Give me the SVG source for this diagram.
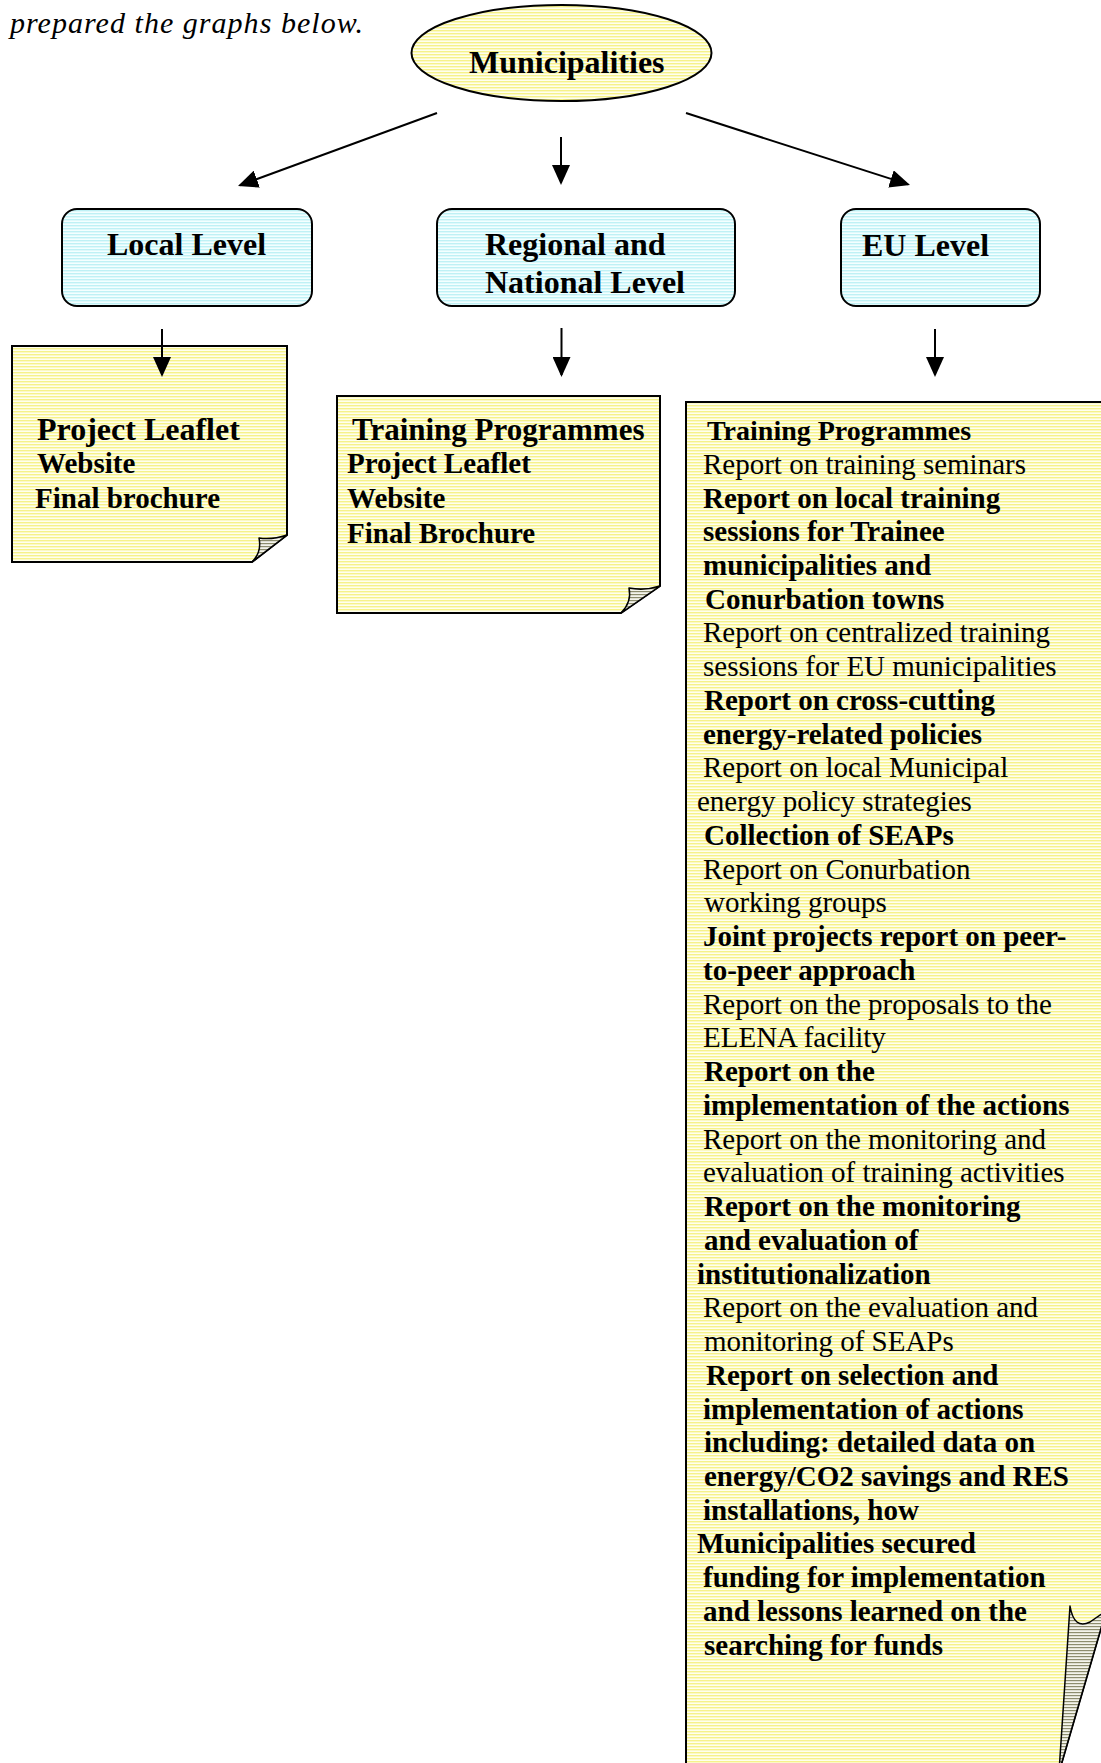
<svg xmlns="http://www.w3.org/2000/svg" width="1101" height="1763" viewBox="0 0 1101 1763">
<defs>
<pattern id="yl" width="8" height="3" patternUnits="userSpaceOnUse"><rect width="8" height="3" fill="#FFFFEE"/><rect width="8" height="1.4" fill="#F6F28A"/></pattern>
<pattern id="cy" width="8" height="3" patternUnits="userSpaceOnUse"><rect width="8" height="3" fill="#F3FFFF"/><rect width="8" height="1.4" fill="#BFF1F5"/></pattern>
<pattern id="hz" width="8" height="3" patternUnits="userSpaceOnUse"><rect width="8" height="3" fill="#F4F4EC"/><rect width="8" height="1.2" fill="#8E8E6E"/></pattern>
<marker id="ah" markerUnits="userSpaceOnUse" markerWidth="20" markerHeight="18" viewBox="0 0 20 18" refX="18" refY="9" orient="auto"><path d="M0,0 L20,9 L0,18 Z" fill="#000"/></marker>
</defs>
<style>
.b{font-family:"Liberation Serif","Times New Roman",serif;font-weight:bold;fill:#000}
.r{font-family:"Liberation Serif","Times New Roman",serif;font-weight:normal;fill:#000}
.h{font-size:32px}
.m{font-size:29px}
.box{fill:url(#cy);stroke:#000;stroke-width:2}
.note{fill:url(#yl);stroke:#000;stroke-width:2}
.fold{fill:url(#hz);stroke:#000;stroke-width:1.5;stroke-linejoin:round}
.c{stroke:#000;stroke-width:2;fill:none;marker-end:url(#ah)}
</style>
<rect width="1101" height="1763" fill="#fff"/>
<text x="10" y="33" font-family="Liberation Serif, Times New Roman, serif" font-style="italic" font-size="30" textLength="353" lengthAdjust="spacing">prepared the graphs below.</text>

<g id="municipalities">
<ellipse cx="561.5" cy="53" rx="150" ry="48" fill="url(#yl)" stroke="#000" stroke-width="2"/>
<text class="b h" x="469" y="73">Municipalities</text>
</g>

<g id="local-level">
<rect class="box" x="62" y="209" width="250" height="97" rx="15"/>
<text class="b h" x="107" y="255">Local Level</text>
</g>

<g id="regional-level">
<rect class="box" x="437" y="209" width="298" height="97" rx="15"/>
<text class="b h" x="485" y="255">Regional and</text>
<text class="b h" x="485" y="293">National Level</text>
</g>

<g id="eu-level">
<rect class="box" x="841" y="209" width="199" height="97" rx="15"/>
<text class="b h" x="862" y="256">EU Level</text>
</g>

<g id="local-note">
<path class="note" d="M12,346 H287 V535 L252,562 H12 Z"/>
<path class="fold" d="M259,538 Q262,552 252,562 L287,535 Q272,540 259,538 Z"/>
<text class="b h" x="37" y="440">Project Leaflet</text>
<text class="b m" x="37" y="473">Website</text>
<text class="b m" x="35" y="508">Final brochure</text>
</g>

<g id="regional-note">
<path class="note" d="M337,396 H660 V586 L621,613 H337 Z"/>
<path class="fold" d="M629,588 Q632,602 621,613 L660,586 Q645,591 629,588 Z"/>
<text class="b" font-size="31" x="352" y="440">Training Programmes</text>
<text class="b m" x="347" y="473">Project Leaflet</text>
<text class="b m" x="347" y="508">Website</text>
<text class="b m" x="347" y="543">Final Brochure</text>
</g>

<g id="eu-note">
<path class="note" d="M686,402 H1106 V1611 L1059,1772 H686 Z"/>
<path class="fold" d="M1070,1606 Q1074,1630 1090,1622 L1106,1611 L1059,1772 Z"/>
<text class="b" font-size="28" x="707" y="440">Training Programmes</text>
<text class="r m" x="703" y="473.7">Report on training seminars</text>
<text class="b m" x="703" y="507.5">Report on local training</text>
<text class="b m" x="703" y="541.2">sessions for Trainee</text>
<text class="b m" x="703" y="575">municipalities and</text>
<text class="b m" x="705" y="608.7">Conurbation towns</text>
<text class="r m" x="703" y="642.4">Report on centralized training</text>
<text class="r m" x="703" y="676.2">sessions for EU municipalities</text>
<text class="b m" x="704" y="709.9">Report on cross-cutting</text>
<text class="b m" x="703" y="743.7">energy-related policies</text>
<text class="r m" x="703" y="777.4">Report on local Municipal</text>
<text class="r m" x="697" y="811.1">energy policy strategies</text>
<text class="b m" x="704" y="844.9">Collection of SEAPs</text>
<text class="r m" x="703" y="878.6">Report on Conurbation</text>
<text class="r m" x="704" y="912.4">working groups</text>
<text class="b m" x="703" y="946.1">Joint projects report on peer-</text>
<text class="b m" x="703" y="979.8">to-peer approach</text>
<text class="r m" x="703" y="1013.6">Report on the proposals to the</text>
<text class="r m" x="703" y="1047.3">ELENA facility</text>
<text class="b m" x="704" y="1081.1">Report on the</text>
<text class="b m" x="703" y="1114.8">implementation of the actions</text>
<text class="r m" x="703" y="1148.5">Report on the monitoring and</text>
<text class="r m" x="703" y="1182.3">evaluation of training activities</text>
<text class="b m" x="704" y="1216">Report on the monitoring</text>
<text class="b m" x="704" y="1249.8">and evaluation of</text>
<text class="b m" x="697" y="1283.5">institutionalization</text>
<text class="r m" x="703" y="1317.2">Report on the evaluation and</text>
<text class="r m" x="704" y="1351">monitoring of SEAPs</text>
<text class="b m" x="706" y="1384.7">Report on selection and</text>
<text class="b m" x="703" y="1418.5">implementation of actions</text>
<text class="b m" x="704" y="1452.2">including: detailed data on</text>
<text class="b m" x="704" y="1485.9">energy/CO2 savings and RES</text>
<text class="b m" x="703" y="1519.7">installations, how</text>
<text class="b m" x="697" y="1553.4">Municipalities secured</text>
<text class="b m" x="703" y="1587.2">funding for implementation</text>
<text class="b m" x="703" y="1620.9">and lessons learned on the</text>
<text class="b m" x="704" y="1654.6">searching for funds</text>
</g>

<g id="connectors">
<line class="c" x1="437" y1="113" x2="239.9" y2="185.3"/>
<line class="c" x1="561" y1="137" x2="561" y2="183"/>
<line class="c" x1="686" y1="113" x2="908.1" y2="184.4"/>
<line class="c" x1="162" y1="329" x2="162" y2="375"/>
<line class="c" x1="561.5" y1="328" x2="561.5" y2="375"/>
<line class="c" x1="935" y1="329" x2="935" y2="375"/>
</g>
</svg>
